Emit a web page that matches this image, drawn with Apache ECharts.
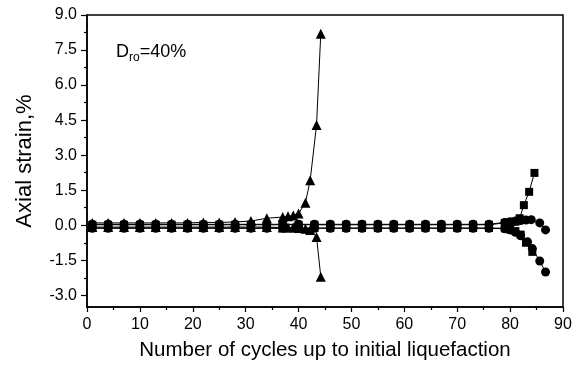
<!DOCTYPE html>
<html>
<head>
<meta charset="utf-8">
<script src="https://cdn.jsdelivr.net/npm/echarts@6/dist/echarts.min.js"></script>
<style>
html,body{margin:0;padding:0;background:#fff;}
#c{width:586px;height:372px;}
</style>
</head>
<body>
<div id="c"></div>
<script>
// ---- data: [cycle, axial strain %] ----
const triangleUpper = [[1,0.1],[4,0.1],[7,0.1],[10,0.1],[13,0.1],[16,0.1],[19,0.1],[22,0.12],[25,0.12],[28,0.14],[31,0.18],[34,0.3],[37,0.35],[38,0.38],[39,0.42],[40,0.5],[41.3,0.96],[42.2,1.93],[43.4,4.29],[44.2,8.2]];
const triangleLower = [[1,-0.08],[4,-0.08],[7,-0.08],[10,-0.08],[13,-0.08],[16,-0.08],[19,-0.08],[22,-0.08],[25,-0.08],[28,-0.08],[31,-0.08],[34,-0.08],[37,-0.1],[38,-0.1],[39,-0.1],[40,-0.12],[41.3,-0.15],[42.2,-0.2],[43.4,-0.5],[44.2,-2.2]];
const circleUpper = [[1,0.04],[4,0.04],[7,0.04],[10,0.04],[13,0.04],[16,0.04],[19,0.04],[22,0.04],[25,0.04],[28,0.04],[31,0.04],[34,0.04],[37,0.04],[40,0.04],[43,0.04],[46,0.04],[49,0.04],[52,0.04],[55,0.04],[58,0.04],[61,0.04],[64,0.04],[67,0.04],[70,0.04],[73,0.04],[76,0.04],[79,0.12],[80,0.15],[81,0.18],[82,0.2],[83,0.22],[84,0.24],[85.6,0.1],[86.7,-0.2]];
const circleLower = [[1,-0.13],[4,-0.13],[7,-0.13],[10,-0.13],[13,-0.13],[16,-0.13],[19,-0.13],[22,-0.13],[25,-0.13],[28,-0.13],[31,-0.13],[34,-0.13],[37,-0.13],[40,-0.13],[43,-0.13],[46,-0.13],[49,-0.13],[52,-0.13],[55,-0.13],[58,-0.13],[61,-0.13],[64,-0.13],[67,-0.13],[70,-0.13],[73,-0.13],[76,-0.13],[79,-0.15],[80,-0.2],[81,-0.3],[82,-0.45],[83.3,-0.71],[84.2,-1.0],[85.6,-1.53],[86.7,-2.0]];
const squareUpper = [[1,0.02],[4,0.02],[7,0.02],[10,0.02],[13,0.02],[16,0.02],[19,0.02],[22,0.02],[25,0.02],[28,0.02],[31,0.02],[34,0.02],[37,0.02],[40,0.02],[43,0.02],[46,0.02],[49,0.02],[52,0.02],[55,0.02],[58,0.02],[61,0.02],[64,0.02],[67,0.02],[70,0.02],[73,0.02],[76,0.02],[79,0.1],[80,0.12],[81,0.15],[81.8,0.3],[82.6,0.86],[83.6,1.43],[84.6,2.24]];
const squareLower = [[1,-0.12],[4,-0.12],[7,-0.12],[10,-0.12],[13,-0.12],[16,-0.12],[19,-0.12],[22,-0.12],[25,-0.12],[28,-0.12],[31,-0.12],[34,-0.12],[37,-0.12],[40,-0.12],[43,-0.12],[46,-0.12],[49,-0.12],[52,-0.12],[55,-0.12],[58,-0.12],[61,-0.12],[64,-0.12],[67,-0.12],[70,-0.12],[73,-0.12],[76,-0.12],[79,-0.13],[80,-0.18],[81,-0.25],[82,-0.4],[83,-0.75],[84.2,-1.14]];

// ---- axis ticks / labels ----
const yMajor = [-3.0,-1.5,0.0,1.5,3.0,4.5,6.0,7.5,9.0];
const yMinor = [-2.25,-0.75,0.75,2.25,3.75,5.25,6.75,8.25];
const xLabelInterval = 10;

const FONT = '"Liberation Sans", Arial, Helvetica, sans-serif';

function mk(name, data, symbol, size) {
  return {
    name: name, type: 'line', data: data, xAxisIndex: 0, yAxisIndex: 0,
    symbol: symbol, symbolSize: size, showSymbol: true,
    lineStyle: {color: '#000', width: 1},
    itemStyle: {color: '#000', borderWidth: 0},
    emphasis: {disabled: true}, z: 3
  };
}

const chart = echarts.init(document.getElementById('c'), null, {renderer: 'canvas'});
chart.setOption({
  animation: false,
  backgroundColor: '#fff',
  title: {
    left: 111, top: 35,
    text: '{a|D}{b|ro}{a|=40%}',
    textStyle: {
      fontWeight: 'normal',
      rich: {
        a: {fontFamily: FONT, fontSize: 18, fontWeight: 'normal', color: '#000', lineHeight: 24},
        b: {fontFamily: FONT, fontSize: 12, fontWeight: 'normal', color: '#000', verticalAlign: 'bottom', lineHeight: 12}
      }
    }
  },
  grid: {left: 87, right: 23, top: 15, bottom: 65, show: true, borderColor: '#000', borderWidth: 1.5, backgroundColor: 'transparent'},
  xAxis: [{
    type: 'value', min: 0, max: 90, interval: xLabelInterval,
    axisLine: {show: true, onZero: false, lineStyle: {color: '#000', width: 1.5}},
    axisTick: {show: true, inside: false, length: 5, lineStyle: {color: '#000', width: 1.2}},
    minorTick: {show: true, splitNumber: 2, length: 3, lineStyle: {color: '#000', width: 1.2}},
    axisLabel: {color: '#000', fontFamily: FONT, fontSize: 16, margin: 10},
    splitLine: {show: false},
    name: 'Number of cycles up to initial liquefaction',
    nameLocation: 'middle', nameGap: 33,
    nameTextStyle: {color: '#000', fontFamily: FONT, fontSize: 20.5}
  }],
  yAxis: [{
    type: 'value', min: -3.5, max: 9,
    axisLine: {show: true, onZero: false, lineStyle: {color: '#000', width: 1.5}},
    axisTick: {show: true, inside: false, length: 6, customValues: yMajor, lineStyle: {color: '#000', width: 1.2}},
    axisLabel: {color: '#000', fontFamily: FONT, fontSize: 16, margin: 10, customValues: yMajor,
      formatter: function (v) { return v.toFixed(1); }},
    splitLine: {show: false},
    name: 'Axial strain,%',
    nameLocation: 'middle', nameGap: 51,
    nameTextStyle: {color: '#000', fontFamily: FONT, fontSize: 22}
  }, {
    type: 'value', min: -3.5, max: 9, position: 'left',
    axisLine: {show: false},
    axisTick: {show: true, inside: false, length: 3, customValues: yMinor, lineStyle: {color: '#000', width: 1.2}},
    axisLabel: {show: false},
    splitLine: {show: false}
  }],
  series: [
    mk('circleUpper', circleUpper, 'circle', 9),
    mk('circleLower', circleLower, 'circle', 9),
    mk('squareUpper', squareUpper, 'rect', 8),
    mk('squareLower', squareLower, 'rect', 8),
    mk('triangleUpper', triangleUpper, 'triangle', 10),
    mk('triangleLower', triangleLower, 'triangle', 10)
  ]
});
</script>
</body>
</html>
